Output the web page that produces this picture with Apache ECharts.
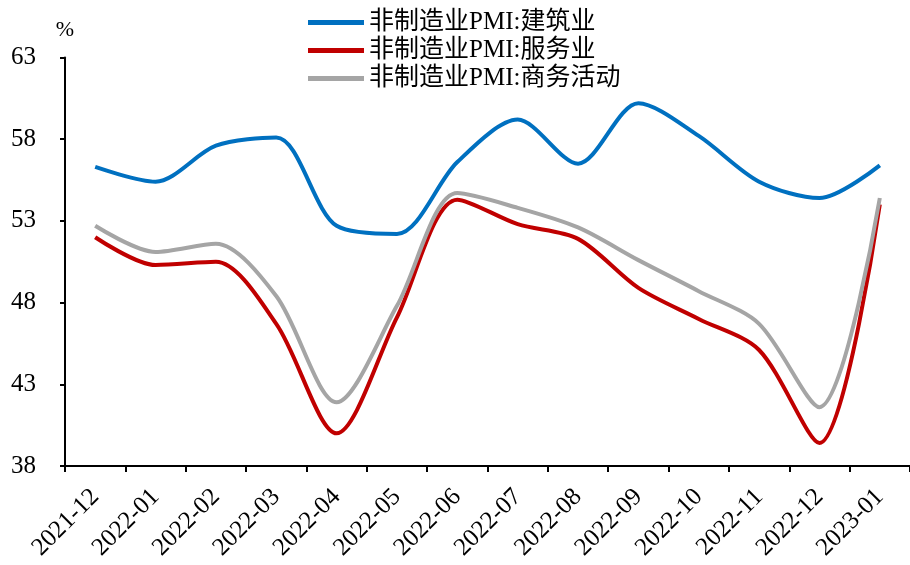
<!DOCTYPE html>
<html><head><meta charset="utf-8">
<script src="https://cdn.jsdelivr.net/npm/echarts@6/dist/echarts.min.js"></script>
<style>html,body{margin:0;padding:0;background:#fff}#c{width:910px;height:565px}</style>
</head><body><div id="c"></div>
<script>
var categories = ['2021-12','2022-01','2022-02','2022-03','2022-04','2022-05','2022-06','2022-07','2022-08','2022-09','2022-10','2022-11','2022-12','2023-01'];
var construction = [56.3, 55.4, 57.6, 58.1, 52.7, 52.2, 56.6, 59.2, 56.5, 60.2, 58.2, 55.4, 54.4, 56.4];
var services = [52.0, 50.3, 50.5, 46.7, 40.0, 47.1, 54.3, 52.8, 51.9, 48.9, 47.0, 45.1, 39.4, 54.0];
var business = [52.7, 51.1, 51.6, 48.4, 41.9, 47.8, 54.7, 53.8, 52.6, 50.6, 48.7, 46.7, 41.6, 54.4];
var names = ['非制造业PMI:建筑业', '非制造业PMI:服务业', '非制造业PMI:商务活动'];
var colors = ['#0070C0', '#C00000', '#A5A5A5'];
var font = '"Times New Roman", "Liberation Serif", "Noto Sans CJK SC", serif';
var chart = echarts.init(document.getElementById('c'));
function mk(i, d) {
  return { name: names[i], type: 'line', data: d, smooth: 0.3, symbol: 'none',
    lineStyle: { color: colors[i], width: 4 }, itemStyle: { color: colors[i] } };
}
chart.setOption({
  animation: false,
  textStyle: { fontFamily: font },
  legend: {
    orient: 'vertical', left: 303, top: 5, itemWidth: 56, itemHeight: 5, itemGap: 3,
    textStyle: { fontFamily: font, fontSize: 25, color: '#000' },
    icon: 'rect', data: names
  },
  grid: { left: 65, top: 57.5, height: 408.5, width: 852 },
  xAxis: {
    type: 'category', data: categories, boundaryGap: true,
    axisLine: { lineStyle: { color: '#000', width: 2 } },
    axisTick: { show: true, length: 6, lineStyle: { color: '#000', width: 2 } },
    axisLabel: { rotate: 45, fontSize: 25, color: '#000', fontFamily: font, margin: 27, interval: 0 }
  },
  yAxis: {
    type: 'value', min: 38, max: 63, interval: 5,
    name: '%', nameGap: 16, nameTextStyle: { fontFamily: font, fontSize: 22, color: '#000', align: 'center' },
    splitLine: { show: false },
    axisLine: { show: true, lineStyle: { color: '#000', width: 2 } },
    axisTick: { show: true, inside: false, length: 5, lineStyle: { color: '#000', width: 2 } },
    axisLabel: { fontSize: 25, color: '#000', fontFamily: font, margin: 29 }
  },
  series: [mk(0, construction), mk(1, services), mk(2, business)]
});
</script></body></html>
